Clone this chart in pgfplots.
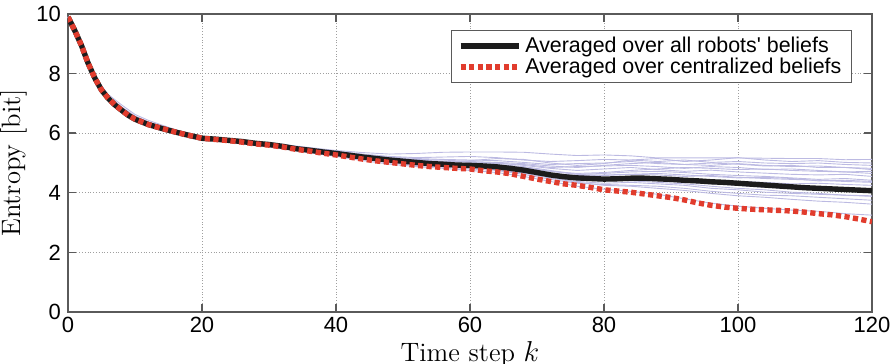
\documentclass[border=0pt]{standalone}
\usepackage{fontspec}
\usepackage{pgfplots}
\usepackage{pgfplotstable}
\pgfplotsset{compat=1.18}
\newfontfamily\hel{Liberation Sans}
\definecolor{robot}{RGB}{188,186,226}
\definecolor{cred}{RGB}{225,60,45}
\definecolor{cblack}{RGB}{28,28,28}
\definecolor{axgray}{RGB}{90,90,90}

\pgfplotstableread{
k l1 l2 l3 l4 l5 l6 l7 l8 l9 l10 l11 l12 l13 l14 l15 l16 l17 l18
0 9.9 9.9 9.9 9.9 9.9 9.9 9.9 9.9 9.9 9.9 9.9 9.9 9.9 9.9 9.9 9.9 9.9 9.9
2 9.0 8.98 8.95 8.92 8.95 8.9 8.93 8.95 9.0 8.96 8.94 8.97 8.99 8.96 8.93 8.97 8.95 8.94
4 7.9 7.85 7.82 7.78 7.8 7.75 7.78 7.8 7.88 7.82 7.79 7.84 7.86 7.83 7.78 7.83 7.81 7.79
6 7.3 7.2 7.18 7.12 7.15 7.1 7.13 7.15 7.25 7.16 7.14 7.2 7.22 7.17 7.13 7.19 7.15 7.14
8 6.95 6.8 6.78 6.72 6.75 6.7 6.73 6.74 6.88 6.76 6.74 6.82 6.84 6.77 6.73 6.8 6.76 6.74
10 6.63 6.5 6.48 6.42 6.44 6.4 6.43 6.44 6.58 6.46 6.45 6.52 6.54 6.47 6.43 6.5 6.46 6.44
12 6.43 6.32 6.3 6.25 6.27 6.24 6.26 6.27 6.38 6.29 6.28 6.33 6.35 6.3 6.26 6.32 6.28 6.27
16 6.12 6.05 6.04 6.0 6.02 5.98 6.0 6.01 6.1 6.03 6.02 6.06 6.08 6.03 6.0 6.05 6.02 6.01
20 5.87 5.85 5.84 5.8 5.82 5.78 5.8 5.81 5.86 5.83 5.82 5.84 5.86 5.83 5.8 5.85 5.82 5.81
24 5.79 5.78 5.76 5.72 5.73 5.7 5.72 5.71 5.78 5.75 5.74 5.76 5.79 5.76 5.71 5.77 5.74 5.72
28 5.71 5.7 5.68 5.63 5.64 5.6 5.62 5.6 5.68 5.66 5.65 5.67 5.7 5.67 5.61 5.69 5.65 5.62
32 5.62 5.6 5.58 5.52 5.53 5.5 5.5 5.48 5.56 5.55 5.54 5.57 5.6 5.56 5.5 5.59 5.55 5.51
36 5.52 5.48 5.46 5.4 5.41 5.38 5.37 5.35 5.45 5.43 5.43 5.46 5.5 5.45 5.38 5.47 5.43 5.39
40 5.42 5.38 5.36 5.3 5.31 5.28 5.26 5.22 5.35 5.33 5.33 5.36 5.4 5.34 5.27 5.37 5.32 5.28
44 5.35 5.28 5.25 5.2 5.18 5.15 5.12 5.08 5.24 5.22 5.21 5.25 5.3 5.22 5.14 5.26 5.2 5.16
48 5.3 5.2 5.16 5.12 5.08 5.05 5.0 4.96 5.15 5.12 5.1 5.15 5.22 5.14 5.03 5.18 5.1 5.04
52 5.32 5.15 5.1 5.05 5.0 4.97 4.92 4.88 5.08 5.04 5.02 5.06 5.18 5.08 4.94 5.12 5.03 4.95
56 5.36 5.12 5.06 5.0 4.95 4.9 4.86 4.82 5.02 4.98 4.96 5.0 5.2 5.04 4.88 5.1 4.98 4.9
60 5.37 5.1 5.04 4.98 4.9 4.85 4.8 4.75 5.08 4.95 4.9 4.96 5.22 5.02 4.84 5.05 4.95 4.86
64 5.37 5.08 5.0 4.95 4.85 4.8 4.75 4.68 5.15 4.9 4.84 4.92 5.18 4.98 4.78 5.02 4.92 4.8
68 5.36 5.02 4.92 4.88 4.75 4.68 4.62 4.55 5.12 4.8 4.72 4.84 5.1 4.95 4.66 4.98 4.85 4.68
72 5.3 4.95 4.82 4.75 4.6 4.52 4.45 4.38 5.0 4.66 4.55 4.72 5.05 4.85 4.5 4.9 4.72 4.5
76 5.25 4.98 4.75 4.62 4.52 4.42 4.32 4.22 4.92 4.58 4.45 4.65 5.08 4.88 4.38 4.85 4.62 4.35
80 5.27 5.0 4.8 4.65 4.5 4.4 4.28 4.12 4.98 4.6 4.42 4.68 5.12 4.9 4.32 4.92 4.58 4.25
84 5.24 5.05 4.85 4.7 4.55 4.42 4.25 4.05 5.1 4.62 4.4 4.75 5.1 4.92 4.35 4.98 4.62 4.22
88 5.17 4.98 4.78 4.72 4.52 4.4 4.22 3.95 5.15 4.6 4.35 4.8 5.05 4.88 4.3 5.02 4.65 4.15
92 5.17 4.95 4.72 4.68 4.45 4.35 4.15 3.8 5.05 4.55 4.3 4.85 5.1 4.82 4.25 4.95 4.6 4.08
96 5.17 5.0 4.76 4.62 4.42 4.3 4.05 3.65 5.1 4.58 4.22 4.82 5.02 4.88 4.15 4.92 4.55 3.98
100 5.17 4.96 4.7 4.58 4.38 4.25 3.98 3.55 5.18 4.52 4.15 4.78 5.05 4.85 4.1 4.98 4.5 3.9
104 5.16 4.9 4.66 4.55 4.35 4.18 3.92 3.48 5.1 4.48 4.1 4.8 5.0 4.78 4.02 4.92 4.52 3.85
108 5.15 4.92 4.62 4.5 4.3 4.15 3.9 3.42 5.05 4.45 4.02 4.75 4.98 4.8 3.98 4.88 4.48 3.78
112 5.15 4.85 4.6 4.45 4.32 4.1 3.85 3.38 5.08 4.42 3.98 4.72 5.0 4.75 3.95 4.9 4.4 3.72
116 5.11 4.85 4.62 4.48 4.28 4.05 3.8 3.3 5.02 4.38 3.92 4.7 4.95 4.7 3.92 4.85 4.42 3.68
120 5.12 4.78 4.55 4.42 4.25 4.02 3.75 3.25 5.0 4.35 3.88 4.65 4.92 4.72 3.9 4.82 4.38 3.62
}\robots

\pgfplotstableread{
k avg
0 9.9
1 9.45
2 8.95
3 8.35
4 7.85
5 7.45
6 7.17
7 6.95
8 6.77
9 6.6
10 6.47
12 6.29
14 6.16
16 6.04
18 5.93
20 5.83
22 5.8
24 5.76
26 5.72
28 5.66
30 5.62
32 5.56
34 5.48
36 5.43
38 5.37
40 5.32
42 5.26
44 5.2
46 5.15
48 5.1
50 5.06
52 5.02
54 4.98
56 4.96
58 4.93
60 4.92
62 4.9
64 4.87
66 4.82
68 4.76
70 4.68
72 4.6
74 4.54
76 4.5
78 4.48
80 4.46
82 4.47
84 4.49
86 4.49
88 4.47
90 4.45
92 4.42
94 4.4
96 4.37
98 4.35
100 4.32
102 4.29
104 4.26
106 4.23
108 4.2
110 4.17
112 4.15
114 4.13
116 4.11
118 4.09
120 4.07
}\avgtab

\pgfplotstableread{
k cen
0 9.9
1 9.45
2 8.95
3 8.35
4 7.85
5 7.45
6 7.17
7 6.95
8 6.77
9 6.6
10 6.47
12 6.29
14 6.16
16 6.04
18 5.93
20 5.83
22 5.79
24 5.75
26 5.7
28 5.64
30 5.6
32 5.54
34 5.46
36 5.4
38 5.33
40 5.27
42 5.2
44 5.13
46 5.07
48 5.02
50 4.97
52 4.92
54 4.88
56 4.85
58 4.82
60 4.8
62 4.74
64 4.7
66 4.64
68 4.55
70 4.46
72 4.38
74 4.3
76 4.25
78 4.18
80 4.1
82 4.06
84 4.02
86 3.96
88 3.9
90 3.84
92 3.76
94 3.66
96 3.58
98 3.52
100 3.48
102 3.45
104 3.43
106 3.41
108 3.39
110 3.35
112 3.3
114 3.26
116 3.2
118 3.12
120 3.03
}\centab

\begin{document}
\begin{tikzpicture}
\begin{axis}[
  width=402pt, height=149pt, scale only axis,
  xmin=0, xmax=120, ymin=0, ymax=10,
  xtick={0,20,...,120}, ytick={0,2,...,10},
  tick align=inside,
  major tick length=4pt,
  grid=major,
  grid style={densely dotted, gray!75, line width=0.45pt},
  axis line style={axgray, line width=0.7pt},
  tick style={axgray, line width=0.7pt},
  /pgf/number format/assume math mode=true,
  tick label style={font=\hel\fontsize{11}{13}\selectfont},
  xticklabel style={inner ysep=1.5pt, yshift=-1pt},
  xlabel={Time step $k$},
  ylabel={Entropy [bit]},
  label style={font=\fontsize{13.3}{15}\selectfont},
  xlabel style={yshift=-2pt, inner ysep=0.5pt},
  ylabel style={yshift=-2pt},
  legend style={at={(0.975,0.946)}, anchor=north east,
    font=\hel\fontsize{10.7}{12}\selectfont,
    draw=axgray, line width=0.5pt, inner xsep=3pt, inner ysep=2.5pt,
    nodes={inner ysep=0.6pt, inner xsep=2pt},
    row sep=0pt},
  legend cell align=left,
  legend image code/.code={\draw[#1] (0pt,0pt) -- (29pt,0pt);},
]
\pgfplotsinvokeforeach{1,...,18}{
  \addplot[robot, line width=0.45pt, forget plot] table[x=k, y=l#1] {\robots};
}
\addplot[cblack, line width=2.7pt] table[x=k, y=avg] {\avgtab};
\addlegendentry{Averaged over all robots' beliefs}
\addplot[cred, line width=2.7pt, dash pattern=on 2.6pt off 1.7pt] table[x=k, y=cen] {\centab};
\addlegendentry{Averaged over centralized beliefs}
\end{axis}
\pgfresetboundingbox
\path[use as bounding box] ([xshift=-34pt,yshift=-26pt]current axis.south west) rectangle ([xshift=12pt,yshift=7pt]current axis.north east);
\end{tikzpicture}
\end{document}
